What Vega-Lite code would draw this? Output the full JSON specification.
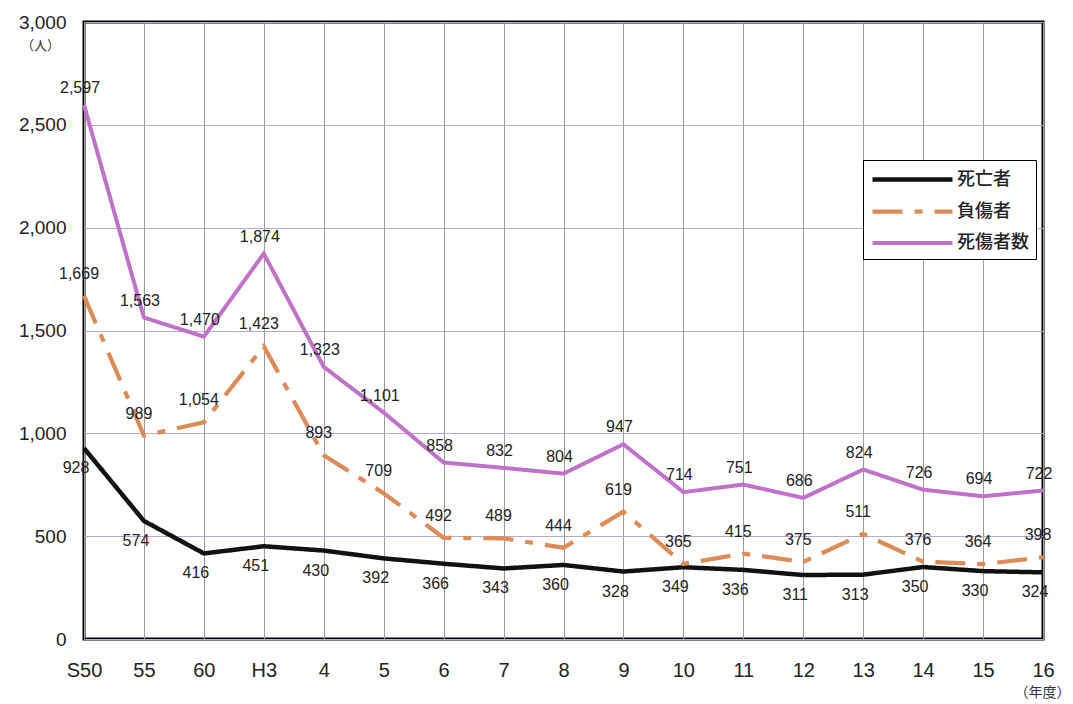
{
  "$schema": "https://vega.github.io/schema/vega-lite/v6.json",
  "width": 959,
  "height": 617,
  "autosize": "none",
  "padding": {"left": 84, "top": 22, "right": 30, "bottom": 65},
  "background": "white",
  "config": {
    "view": {"stroke": "black", "strokeWidth": 3},
    "font": "Liberation Sans",
    "legend": {
      "title": null,
      "orient": "none",
      "legendX": 779,
      "legendY": 138,
      "symbolType": "M-1,0H7",
      "symbolSize": 400,
      "labelFont": "Noto Sans CJK JP",
      "labelFontSize": 18,
      "labelFontWeight": 500,
      "labelColor": "#222",
      "strokeColor": "black",
      "fillColor": "white",
      "padding": 7,
      "rowPadding": 10,
      "labelOffset": 62
    }
  },
  "data": {
    "values": [
      {"year": "S50", "series": "死亡者", "value": 928},
      {"year": "55", "series": "死亡者", "value": 574},
      {"year": "60", "series": "死亡者", "value": 416},
      {"year": "H3", "series": "死亡者", "value": 451},
      {"year": "4", "series": "死亡者", "value": 430},
      {"year": "5", "series": "死亡者", "value": 392},
      {"year": "6", "series": "死亡者", "value": 366},
      {"year": "7", "series": "死亡者", "value": 343},
      {"year": "8", "series": "死亡者", "value": 360},
      {"year": "9", "series": "死亡者", "value": 328},
      {"year": "10", "series": "死亡者", "value": 349},
      {"year": "11", "series": "死亡者", "value": 336},
      {"year": "12", "series": "死亡者", "value": 311},
      {"year": "13", "series": "死亡者", "value": 313},
      {"year": "14", "series": "死亡者", "value": 350},
      {"year": "15", "series": "死亡者", "value": 330},
      {"year": "16", "series": "死亡者", "value": 324},
      {"year": "S50", "series": "負傷者", "value": 1669},
      {"year": "55", "series": "負傷者", "value": 989},
      {"year": "60", "series": "負傷者", "value": 1054},
      {"year": "H3", "series": "負傷者", "value": 1423},
      {"year": "4", "series": "負傷者", "value": 893},
      {"year": "5", "series": "負傷者", "value": 709},
      {"year": "6", "series": "負傷者", "value": 492},
      {"year": "7", "series": "負傷者", "value": 489},
      {"year": "8", "series": "負傷者", "value": 444},
      {"year": "9", "series": "負傷者", "value": 619},
      {"year": "10", "series": "負傷者", "value": 365},
      {"year": "11", "series": "負傷者", "value": 415},
      {"year": "12", "series": "負傷者", "value": 375},
      {"year": "13", "series": "負傷者", "value": 511},
      {"year": "14", "series": "負傷者", "value": 376},
      {"year": "15", "series": "負傷者", "value": 364},
      {"year": "16", "series": "負傷者", "value": 398},
      {"year": "S50", "series": "死傷者数", "value": 2597},
      {"year": "55", "series": "死傷者数", "value": 1563},
      {"year": "60", "series": "死傷者数", "value": 1470},
      {"year": "H3", "series": "死傷者数", "value": 1874},
      {"year": "4", "series": "死傷者数", "value": 1323},
      {"year": "5", "series": "死傷者数", "value": 1101},
      {"year": "6", "series": "死傷者数", "value": 858},
      {"year": "7", "series": "死傷者数", "value": 832},
      {"year": "8", "series": "死傷者数", "value": 804},
      {"year": "9", "series": "死傷者数", "value": 947},
      {"year": "10", "series": "死傷者数", "value": 714},
      {"year": "11", "series": "死傷者数", "value": 751},
      {"year": "12", "series": "死傷者数", "value": 686},
      {"year": "13", "series": "死傷者数", "value": 824},
      {"year": "14", "series": "死傷者数", "value": 726},
      {"year": "15", "series": "死傷者数", "value": 694},
      {"year": "16", "series": "死傷者数", "value": 722}
    ]
  },
  "encoding": {
    "x": {
      "field": "year",
      "type": "ordinal",
      "sort": null,
      "scale": {"type": "point", "padding": 0},
      "axis": {
        "title": "（年度）",
        "titleFont": "Noto Sans CJK JP",
        "titleFontSize": 14,
        "titleFontWeight": "normal",
        "titleColor": "#333",
        "titleAlign": "right",
        "titleAnchor": null,
        "titleBaseline": "middle",
        "titleX": 986,
        "titleY": 53,
        "labelAngle": 0,
        "labelFontSize": 20,
        "labelColor": "#222",
        "labelPadding": 21,
        "ticks": false,
        "domain": false,
        "grid": true,
        "gridColor": "#9a9a9a",
        "gridWidth": 1
      }
    },
    "y": {
      "field": "value",
      "type": "quantitative",
      "scale": {"domain": [0, 3000]},
      "axis": {
        "values": [0, 500, 1000, 1500, 2000, 2500, 3000],
        "format": ",.0f",
        "title": "（人）",
        "titleFont": "Noto Sans CJK JP",
        "titleFontSize": 13,
        "titleFontWeight": "normal",
        "titleColor": "#333",
        "titleAngle": 0,
        "titleAlign": "center",
        "titleBaseline": "middle",
        "titleX": -44,
        "titleY": 23,
        "labelFontSize": 19,
        "labelColor": "#222",
        "labelPadding": 18,
        "ticks": false,
        "domain": false,
        "grid": true,
        "gridColor": "#b8a8cc",
        "gridWidth": 1
      }
    }
  },
  "layer": [
    {
      "mark": {"type": "line", "strokeCap": "butt"},
      "encoding": {
        "color": {
          "field": "series",
          "type": "nominal",
          "scale": {"domain": ["死亡者", "負傷者", "死傷者数"], "range": ["#111111", "#dd8c58", "#bf72c8"]}
        },
        "strokeDash": {
          "field": "series",
          "type": "nominal",
          "scale": {"domain": ["死亡者", "負傷者", "死傷者数"], "range": [[1, 0], [30, 12, 8, 12], [1, 0]]}
        },
        "strokeWidth": {
          "field": "series",
          "type": "nominal",
          "scale": {"domain": ["死亡者", "負傷者", "死傷者数"], "range": [4.5, 4, 1.4]}
        }
      }
    },
    {
      "transform": [{"filter": "datum.series == '死亡者'"}],
      "mark": {"type": "text", "fontSize": 16, "color": "#222", "dx": -8, "dy": 20},
      "encoding": {"text": {"field": "value", "type": "quantitative", "format": ","}}
    },
    {
      "transform": [{"filter": "datum.series == '負傷者'"}],
      "mark": {"type": "text", "fontSize": 16, "color": "#222", "dx": -5, "dy": -22},
      "encoding": {"text": {"field": "value", "type": "quantitative", "format": ","}}
    },
    {
      "transform": [{"filter": "datum.series == '死傷者数'"}],
      "mark": {"type": "text", "fontSize": 16, "color": "#222", "dx": -4, "dy": -17},
      "encoding": {"text": {"field": "value", "type": "quantitative", "format": ","}}
    }
  ]
}
